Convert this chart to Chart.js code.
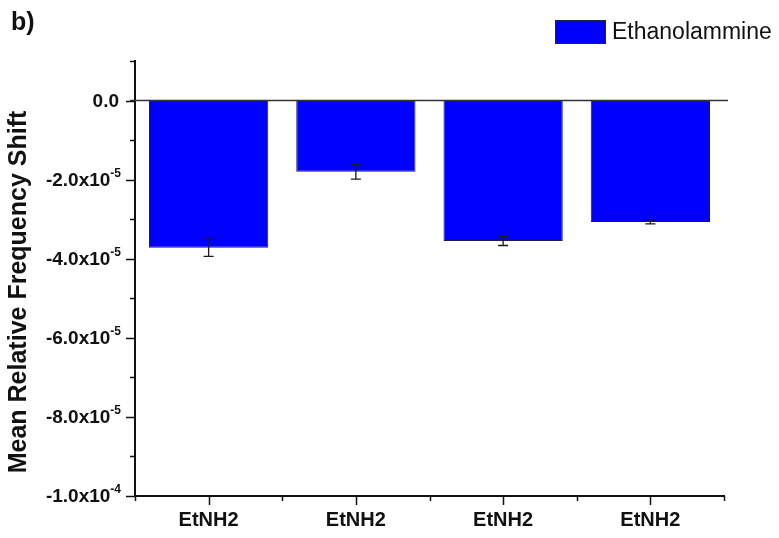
<!DOCTYPE html>
<html>
<head>
<meta charset="utf-8">
<script src="https://cdn.jsdelivr.net/npm/chart.js@4.4.0/dist/chart.umd.min.js"></script>
<style>
  html, body { margin: 0; padding: 0; background: #ffffff; }
  #wrap { width: 779px; height: 538px; }
</style>
</head>
<body>
<div id="wrap"><canvas id="c" width="779" height="538"></canvas></div>
<script>
// Mean relative frequency shift per measurement, with standard deviation
const categories = ['EtNH2', 'EtNH2', 'EtNH2', 'EtNH2'];
const shiftMean = [-3.72e-5, -1.80e-5, -3.55e-5, -3.07e-5];
const shiftErr = [2.2e-6, 1.85e-6, 1.15e-6, 0.5e-6];
const seriesLabel = 'Ethanolammine';

// Y axis: labelled major ticks and unlabelled minor ticks
const yMajorTicks = [0, -2e-5, -4e-5, -6e-5, -8e-5, -1e-4];
const yMajorMantissa = ['0.0', '-2.0x10', '-4.0x10', '-6.0x10', '-8.0x10', '-1.0x10'];
const yMajorExponent = ['', '-5', '-5', '-5', '-5', '-4'];
const yMinorTicks = [1e-5, -1e-5, -3e-5, -5e-5, -7e-5, -9e-5];
const yMin = -1e-4, yMax = 1e-5;

const yTitle = 'Mean Relative Frequency Shift';
const panelTag = 'b)';

const FONT = "'Liberation Sans', Arial, Helvetica, sans-serif";
const INK = '#111111';
const BAR_BLUE = '#0000ff';

const decorPlugin = {
  id: 'decor',
  afterDatasetsDraw(chart) {
    const ctx = chart.ctx;
    const x = chart.scales.x, y = chart.scales.y;
    const area = chart.chartArea;
    ctx.save();
    // reference line at zero
    const y0 = y.getPixelForValue(0);
    ctx.strokeStyle = '#333333';
    ctx.lineWidth = 1.5;
    ctx.beginPath();
    ctx.moveTo(area.left - 5, y0);
    ctx.lineTo(area.right + 4, y0);
    ctx.stroke();
    // error bars
    ctx.strokeStyle = '#1a1a1a';
    ctx.lineWidth = 1.3;
    shiftMean.forEach((m, i) => {
      const cx = x.getPixelForValue(i);
      const yt = y.getPixelForValue(m + shiftErr[i]);
      const yb = y.getPixelForValue(m - shiftErr[i]);
      ctx.beginPath();
      ctx.moveTo(cx, yt); ctx.lineTo(cx, yb);
      ctx.moveTo(cx - 5, yt); ctx.lineTo(cx + 5, yt);
      ctx.moveTo(cx - 5, yb); ctx.lineTo(cx + 5, yb);
      ctx.stroke();
    });
    ctx.restore();
  },
  afterDraw(chart) {
    const ctx = chart.ctx;
    const x = chart.scales.x, y = chart.scales.y;
    const area = chart.chartArea;
    ctx.save();
    ctx.strokeStyle = INK;
    ctx.lineWidth = 1.5;
    // y ticks
    ctx.beginPath();
    yMajorTicks.forEach(v => {
      const py = Math.round(y.getPixelForValue(v)) + 0.5;
      ctx.moveTo(area.left - 9, py); ctx.lineTo(area.left, py);
    });
    yMinorTicks.forEach(v => {
      const py = Math.round(y.getPixelForValue(v)) + 0.5;
      ctx.moveTo(area.left - 5, py); ctx.lineTo(area.left, py);
    });
    // x ticks: major at category centres, minor at category boundaries
    const step = x.getPixelForValue(1) - x.getPixelForValue(0);
    categories.forEach((c, i) => {
      const px = Math.round(x.getPixelForValue(i)) + 0.5;
      ctx.moveTo(px, area.bottom); ctx.lineTo(px, area.bottom + 9);
    });
    for (let i = 0; i <= categories.length; i++) {
      const px = Math.round(x.getPixelForValue(0) - step / 2 + i * step) + 0.5;
      ctx.moveTo(px, area.bottom); ctx.lineTo(px, area.bottom + 5);
    }
    ctx.stroke();

    // y tick labels with superscript exponents
    ctx.fillStyle = INK;
    ctx.textBaseline = 'middle';
    yMajorTicks.forEach((v, i) => {
      const py = y.getPixelForValue(v);
      let right = area.left - 14;
      const exp = yMajorExponent[i];
      if (exp) {
        ctx.font = 'bold 12px ' + FONT;
        ctx.textAlign = 'right';
        ctx.fillText(exp, right, py - 6);
        right -= ctx.measureText(exp).width;
      } else {
        right -= 2;
      }
      ctx.font = 'bold 19px ' + FONT;
      ctx.textAlign = 'right';
      ctx.fillText(yMajorMantissa[i], right, py + 1);
    });

    // y axis title
    ctx.save();
    ctx.translate(19, 292);
    ctx.rotate(-Math.PI / 2);
    ctx.font = 'bold 25px ' + FONT;
    ctx.textAlign = 'center';
    ctx.textBaseline = 'middle';
    ctx.fillText(yTitle, 0, 0);
    ctx.restore();

    // legend
    const ds = chart.data.datasets[0];
    ctx.fillStyle = ds.backgroundColor;
    ctx.fillRect(555, 20, 51, 24);
    ctx.strokeStyle = '#222244';
    ctx.lineWidth = 1;
    ctx.strokeRect(555.5, 20.5, 50, 23);
    ctx.fillStyle = INK;
    ctx.font = '23px ' + FONT;
    ctx.textAlign = 'left';
    ctx.textBaseline = 'middle';
    ctx.fillText(ds.label, 612, 33);

    // panel tag
    ctx.font = 'bold 25px ' + FONT;
    ctx.textBaseline = 'alphabetic';
    ctx.fillText(panelTag, 11, 30);
    ctx.restore();
  }
};

new Chart(document.getElementById('c'), {
  type: 'bar',
  data: {
    labels: categories,
    datasets: [{
      label: seriesLabel,
      data: shiftMean,
      backgroundColor: BAR_BLUE,
      borderColor: '#1c1c4a',
      borderWidth: 1,
      barPercentage: 0.81,
      categoryPercentage: 1.0
    }]
  },
  options: {
    responsive: false,
    animation: false,
    devicePixelRatio: 1,
    layout: { padding: { left: 0, right: 55, top: 61, bottom: 0 } },
    plugins: { legend: { display: false }, title: { display: false }, tooltip: { enabled: false } },
    scales: {
      x: {
        offset: true,
        grid: { display: false, drawTicks: false },
        border: { display: true, color: INK, width: 2 },
        ticks: { color: INK, font: { family: FONT, size: 20, weight: 'bold' }, padding: 12, maxRotation: 0, autoSkip: false },
        afterFit(scale) { scale.height = 42; }
      },
      y: {
        min: yMin,
        max: yMax,
        grid: { display: false, drawTicks: false },
        border: { display: true, color: INK, width: 2 },
        ticks: { display: false },
        afterBuildTicks(scale) { scale.ticks = yMajorTicks.concat(yMinorTicks).map(v => ({ value: v })); },
        afterFit(scale) { scale.width = 135; }
      }
    }
  },
  plugins: [decorPlugin]
});
</script>
</body>
</html>
